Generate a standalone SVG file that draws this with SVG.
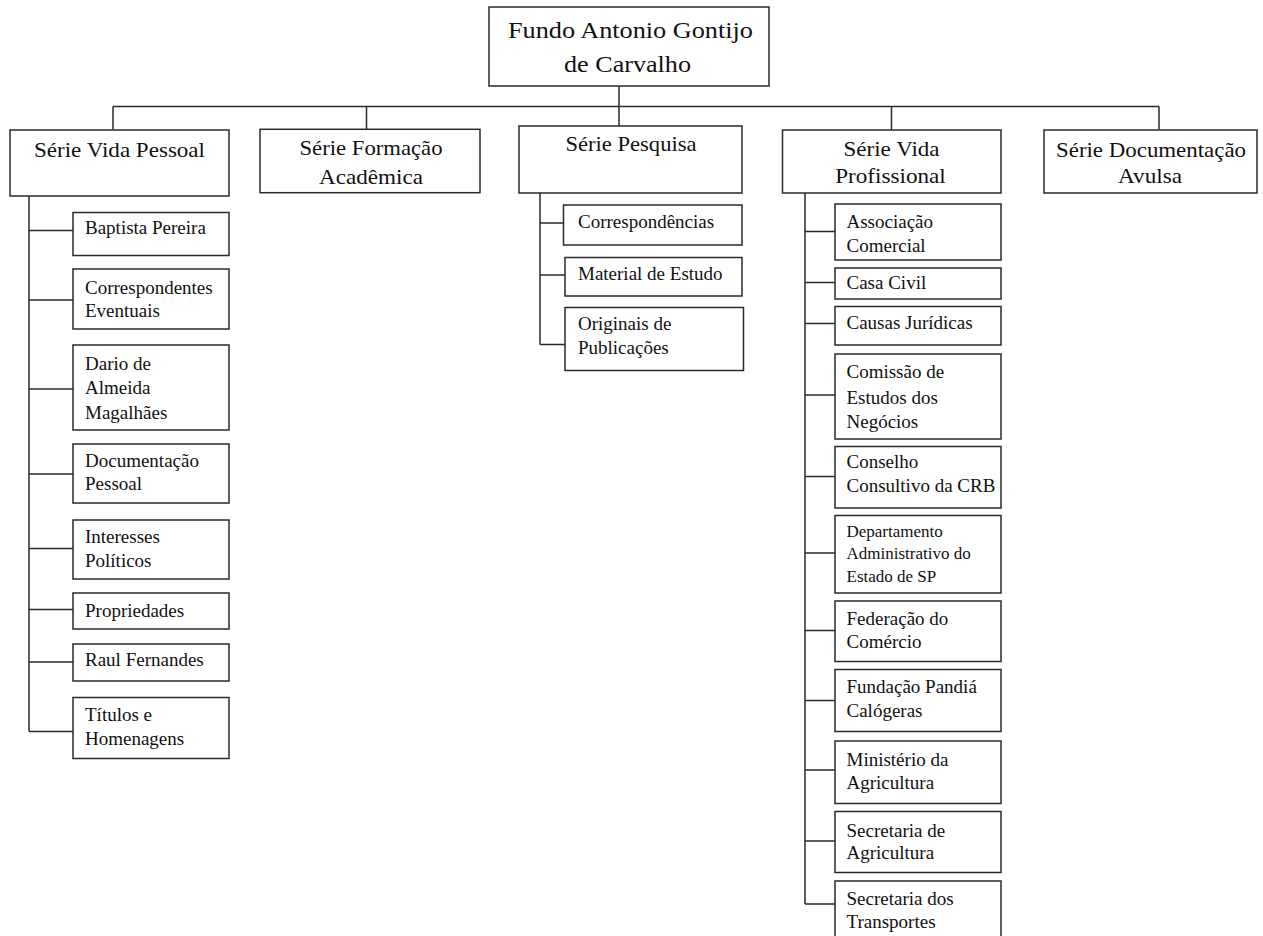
<svg xmlns="http://www.w3.org/2000/svg" width="1263" height="936" viewBox="0 0 1263 936">
<style>
.box{fill:#fff;stroke:#2a2a2a;stroke-width:1.5}
.ln{fill:none;stroke:#2a2a2a;stroke-width:1.5}
text{font-family:"Liberation Serif","Times New Roman",serif;fill:#111}
.root{font-size:24px;text-anchor:middle}
.ser{font-size:22px;text-anchor:middle}
.ch{font-size:19px}
.sm{font-size:17px}
</style>
<rect width="1263" height="936" fill="#fff"/>
<g id="connectors">
<path class="ln" d="M619 86V126M113 106.5H1159M113 106.5V130M366.5 106.5V129M891.5 106.5V130M1159 106.5V130"/>
<path class="ln" d="M29 196V731.5M29 230.5H73M29 300H73M29 389H73M29 474H73M29 548.5H73M29 609.5H73M29 662H73M29 731.5H73"/>
<path class="ln" d="M540 193V344.5M540 223H563.5M540 275H565M540 344.5H565"/>
<path class="ln" d="M805 193V904M805 231.5H835M805 282.5H835M805 323.5H835M805 395H835M805 476.5H835M805 553H835M805 630.5H835M805 700.5H835M805 770H835M805 841H835M805 904H835"/>
</g>
<g id="root">
<rect class="box" x="489" y="7" width="280" height="79"/>
<text class="root" x="630.5" y="38" textLength="245" lengthAdjust="spacingAndGlyphs">Fundo Antonio Gontijo</text>
<text class="root" x="627.5" y="72" textLength="127" lengthAdjust="spacingAndGlyphs">de Carvalho</text>
</g>
<g id="serie-vida-pessoal">
<rect class="box" x="10" y="130" width="219" height="66"/>
<text class="ser" x="119.5" y="157" textLength="171" lengthAdjust="spacingAndGlyphs">Série Vida Pessoal</text>
</g>
<g id="serie-formacao">
<rect class="box" x="260" y="129.3" width="220" height="63.4"/>
<text class="ser" x="371" y="154.5" textLength="143" lengthAdjust="spacingAndGlyphs">Série Formação</text>
<text class="ser" x="371" y="183.5" textLength="104" lengthAdjust="spacingAndGlyphs">Acadêmica</text>
</g>
<g id="serie-pesquisa">
<rect class="box" x="519" y="126" width="223" height="67"/>
<text class="ser" x="631" y="151" textLength="131" lengthAdjust="spacingAndGlyphs">Série Pesquisa</text>
</g>
<g id="serie-vida-profissional">
<rect class="box" x="782.5" y="130" width="218.5" height="63"/>
<text class="ser" x="891.5" y="156" textLength="96" lengthAdjust="spacingAndGlyphs">Série Vida</text>
<text class="ser" x="890.5" y="183" textLength="110.5" lengthAdjust="spacingAndGlyphs">Profissional</text>
</g>
<g id="serie-documentacao">
<rect class="box" x="1044" y="130" width="213" height="63"/>
<text class="ser" x="1151" y="156.5" textLength="190" lengthAdjust="spacingAndGlyphs">Série Documentação</text>
<text class="ser" x="1150" y="183" textLength="64" lengthAdjust="spacingAndGlyphs">Avulsa</text>
</g>
<g id="baptista-pereira"><rect class="box" x="73" y="212.5" width="156" height="43"/><text class="ch" x="85" y="234">Baptista Pereira</text></g>
<g id="correspondentes-eventuais"><rect class="box" x="73" y="269" width="156" height="60"/><text class="ch" x="85" y="294">Correspondentes</text><text class="ch" x="85" y="317">Eventuais</text></g>
<g id="dario"><rect class="box" x="73" y="345" width="156" height="85"/><text class="ch" x="85" y="370">Dario de</text><text class="ch" x="85" y="394">Almeida</text><text class="ch" x="85" y="418.5">Magalhães</text></g>
<g id="documentacao-pessoal"><rect class="box" x="73" y="444" width="156" height="59"/><text class="ch" x="85" y="467">Documentação</text><text class="ch" x="85" y="490">Pessoal</text></g>
<g id="interesses-politicos"><rect class="box" x="73" y="520" width="156" height="59"/><text class="ch" x="85" y="543">Interesses</text><text class="ch" x="85" y="567">Políticos</text></g>
<g id="propriedades"><rect class="box" x="73" y="593" width="156" height="36"/><text class="ch" x="85" y="616.5">Propriedades</text></g>
<g id="raul-fernandes"><rect class="box" x="73" y="644" width="156" height="37"/><text class="ch" x="85" y="666">Raul Fernandes</text></g>
<g id="titulos-homenagens"><rect class="box" x="73" y="697.5" width="156" height="61"/><text class="ch" x="85" y="720.5">Títulos e</text><text class="ch" x="85" y="745">Homenagens</text></g>
<g id="correspondencias"><rect class="box" x="563.5" y="205" width="178.5" height="40"/><text class="ch" x="578" y="228">Correspondências</text></g>
<g id="material-estudo"><rect class="box" x="565" y="257.5" width="177" height="38.5"/><text class="ch" x="578" y="280">Material de Estudo</text></g>
<g id="originais-publicacoes"><rect class="box" x="565" y="307.5" width="178.5" height="63"/><text class="ch" x="578" y="330">Originais de</text><text class="ch" x="578" y="354">Publicações</text></g>
<g id="associacao-comercial"><rect class="box" x="835" y="204" width="166" height="56"/><text class="ch" x="846.5" y="228">Associação</text><text class="ch" x="846.5" y="251.5">Comercial</text></g>
<g id="casa-civil"><rect class="box" x="835" y="268" width="166" height="31"/><text class="ch" x="846.5" y="289">Casa Civil</text></g>
<g id="causas-juridicas"><rect class="box" x="835" y="306.5" width="166" height="38.5"/><text class="ch" x="846.5" y="329">Causas Jurídicas</text></g>
<g id="comissao-estudos"><rect class="box" x="835" y="354" width="166" height="85"/><text class="ch" x="846.5" y="378">Comissão de</text><text class="ch" x="846.5" y="404">Estudos dos</text><text class="ch" x="846.5" y="428">Negócios</text></g>
<g id="conselho-consultivo"><rect class="box" x="835" y="446.5" width="166" height="61.5"/><text class="ch" x="846.5" y="468">Conselho</text><text class="ch" x="846.5" y="491.5">Consultivo da CRB</text></g>
<g id="departamento-administrativo"><rect class="box" x="835" y="515.5" width="166" height="77.5"/><text class="sm" x="846.5" y="536.5">Departamento</text><text class="sm" x="846.5" y="559">Administrativo do</text><text class="sm" x="846.5" y="581.5">Estado de SP</text></g>
<g id="federacao-comercio"><rect class="box" x="835" y="601" width="166" height="60.5"/><text class="ch" x="846.5" y="625">Federação do</text><text class="ch" x="846.5" y="648">Comércio</text></g>
<g id="fundacao-pandia"><rect class="box" x="835" y="669.5" width="166" height="62"/><text class="ch" x="846.5" y="693">Fundação Pandiá</text><text class="ch" x="846.5" y="716.5">Calógeras</text></g>
<g id="ministerio-agricultura"><rect class="box" x="835" y="741" width="166" height="62.5"/><text class="ch" x="846.5" y="766">Ministério da</text><text class="ch" x="846.5" y="789">Agricultura</text></g>
<g id="secretaria-agricultura"><rect class="box" x="835" y="811.5" width="166" height="61"/><text class="ch" x="846.5" y="836.5">Secretaria de</text><text class="ch" x="846.5" y="859">Agricultura</text></g>
<g id="secretaria-transportes"><rect class="box" x="835" y="881" width="166" height="70"/><text class="ch" x="846.5" y="905">Secretaria dos</text><text class="ch" x="846.5" y="928">Transportes</text></g>
</svg>
